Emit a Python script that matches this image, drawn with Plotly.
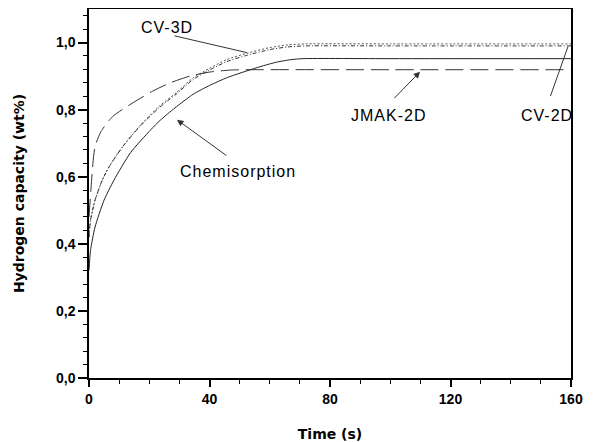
import plotly.graph_objects as go

# Data
chem_t = [0, 0.5, 2, 5, 8.3, 13.8, 20.5, 23.6, 28.5, 34.6, 40, 46, 55.7, 62, 67, 71, 100, 160]
chem_v = [0.32, 0.38, 0.45, 0.53, 0.59, 0.672, 0.74, 0.768, 0.805, 0.846, 0.872, 0.896, 0.925, 0.941, 0.949, 0.952, 0.952, 0.952]

jmak_t = [0, 0.7, 1.3, 2, 4, 7.9, 14.5, 21.1, 26.7, 33.5, 40, 47, 52, 100, 160]
jmak_v = [0.48, 0.57, 0.64, 0.69, 0.735, 0.78, 0.82, 0.855, 0.879, 0.90, 0.912, 0.918, 0.919, 0.919, 0.919]

cv3_t = [0, 0.5, 2, 4.4, 6.7, 11.2, 16.7, 23.3, 28.9, 34.6, 40, 45.7, 52.4, 60, 66, 72, 100, 160]
cv3_v = [0.42, 0.47, 0.53, 0.59, 0.63, 0.69, 0.75, 0.81, 0.85, 0.895, 0.923, 0.949, 0.968, 0.985, 0.993, 0.996, 0.996, 0.996]

cv2_t = [0, 0.5, 2, 4.4, 6.7, 11.2, 16.7, 23.3, 28.9, 34.6, 40, 45.7, 52.4, 60, 66, 72, 100, 160]
cv2_v = [0.42, 0.47, 0.53, 0.59, 0.63, 0.69, 0.748, 0.806, 0.846, 0.89, 0.918, 0.943, 0.962, 0.979, 0.987, 0.990, 0.990, 0.990]

x_ticks = [0, 40, 80, 120, 160]
y_ticks = [0.0, 0.2, 0.4, 0.6, 0.8, 1.0]

fig = go.Figure()
fig.add_trace(go.Scatter(x=cv3_t, y=cv3_v, mode="lines",
                         line=dict(color="#555555", width=1, dash="2px,2px", shape="spline", smoothing=0.6)))
fig.add_trace(go.Scatter(x=cv2_t, y=cv2_v, mode="lines",
                         line=dict(color="#333333", width=1, dash="4px,2px,1px,2px", shape="spline", smoothing=0.6)))
fig.add_trace(go.Scatter(x=jmak_t, y=jmak_v, mode="lines",
                         line=dict(color="#333333", width=1, dash="18px,7px", shape="spline", smoothing=0.6)))
fig.add_trace(go.Scatter(x=chem_t, y=chem_v, mode="lines",
                         line=dict(color="#222222", width=1, shape="spline", smoothing=0.6)))

afont = dict(family="Liberation Sans, Arial", size=16, color="black")


def spaced(s):
    return '<span style="letter-spacing:1px">' + s + '</span>'


# labels
fig.add_annotation(x=25.9, y=1.045, text=spaced("CV-3D"), showarrow=False, font=afont)
fig.add_annotation(x=49.5, y=0.615, text=spaced("Chemisorption"), showarrow=False, font=afont)
fig.add_annotation(x=99.3, y=0.782, text=spaced("JMAK-2D"), showarrow=False, font=afont)
fig.add_annotation(x=152, y=0.782, text=spaced("CV-2D"), showarrow=False, font=afont)
# pointer lines
fig.add_annotation(x=52.4, y=0.970, ax=27.9, ay=1.021, axref="x", ayref="y", text="",
                   showarrow=True, arrowhead=0, arrowwidth=1, arrowcolor="#333333")
fig.add_annotation(x=29.2, y=0.77, ax=46.1, ay=0.66, axref="x", ayref="y", text="",
                   showarrow=True, arrowhead=2, arrowsize=1.3, arrowwidth=1, arrowcolor="#333333")
fig.add_annotation(x=109.9, y=0.913, ax=100.9, ay=0.83, axref="x", ayref="y", text="",
                   showarrow=True, arrowhead=2, arrowsize=1.3, arrowwidth=1, arrowcolor="#333333")
fig.add_annotation(x=159, y=0.988, ax=153, ay=0.836, axref="x", ayref="y", text="",
                   showarrow=True, arrowhead=0, arrowwidth=1, arrowcolor="#333333")

fig.update_layout(
    width=591, height=434,
    margin=dict(l=81, r=28, t=1, b=64, autoexpand=False),
    paper_bgcolor="white", plot_bgcolor="white",
    showlegend=False,
    separators=", ",
    font=dict(family="DejaVu Sans", color="black"),
)
tickfont = dict(family="Liberation Sans, Arial", size=14, color="black", weight="bold")
fig.update_xaxes(
    range=[0, 160], tickvals=x_ticks, ticktext=[str(v) for v in x_ticks],
    showgrid=False, zeroline=False, automargin=False,
    showline=True, linecolor="black", linewidth=1.5, mirror=True,
    ticks="outside", ticklen=7, tickwidth=1.5, tickcolor="black",
    minor=dict(dtick=10, tick0=0, ticks="outside", ticklen=4, tickwidth=1, tickcolor="black"),
    tickfont=tickfont,
    title=dict(text="<b>Time (s)</b>", font=dict(family="DejaVu Sans", size=14, color="black"), standoff=24),
)
fig.update_yaxes(
    range=[0, 1.1], tickvals=y_ticks, tickformat=".1f",
    showgrid=False, zeroline=False, automargin=False,
    showline=True, linecolor="black", linewidth=1.5, mirror=True,
    ticks="outside", ticklen=9, tickwidth=1.5, tickcolor="black",
    minor=dict(dtick=0.04, tick0=0, ticks="outside", ticklen=4, tickwidth=1, tickcolor="black"),
    tickfont=tickfont,
    title=dict(text="<b>Hydrogen capacity (wt%)</b>", font=dict(family="DejaVu Sans", size=14, color="black"), standoff=28),
)

fig.write_html("out.html")
